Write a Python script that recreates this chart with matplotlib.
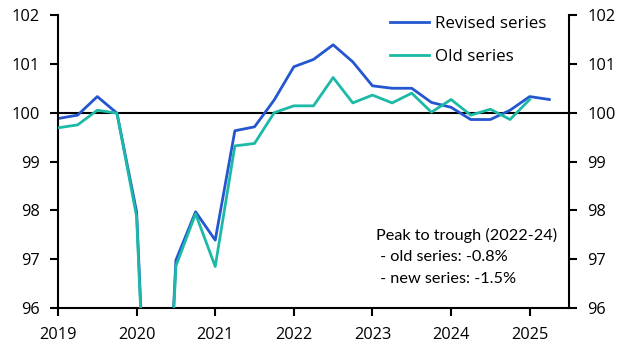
import numpy as np
import matplotlib
matplotlib.use("Agg")
import matplotlib.pyplot as plt

# quarterly index values, 2019Q1 onward
quarters = ["2019Q1", "2019Q2", "2019Q3", "2019Q4",
            "2020Q1", "2020Q2", "2020Q3", "2020Q4",
            "2021Q1", "2021Q2", "2021Q3", "2021Q4",
            "2022Q1", "2022Q2", "2022Q3", "2022Q4",
            "2023Q1", "2023Q2", "2023Q3", "2023Q4",
            "2024Q1", "2024Q2", "2024Q3", "2024Q4",
            "2025Q1", "2025Q2"]

revised = [99.88, 99.95, 100.33, 99.99,
           97.97, 88.8, 96.98, 97.97,
           97.39, 99.63, 99.71, 100.26,
           100.94, 101.09, 101.39, 101.04,
           100.55, 100.50, 100.50, 100.21,
           100.11, 99.86, 99.86, 100.05,
           100.33, 100.27]

old = [99.69, 99.75, 100.05, 99.99,
       97.87, 88.6, 96.86, 97.93,
       96.85, 99.32, 99.37, 100.0,
       100.14, 100.14, 100.72, 100.20,
       100.36, 100.20, 100.40, 100.01,
       100.27, 99.95, 100.07, 99.86,
       100.27]

year_ticks = [2019, 2020, 2021, 2022, 2023, 2024, 2025]
y_ticks = [96, 97, 98, 99, 100, 101, 102]

note = "Peak to trough (2022-24)\n - old series: -0.8%\n - new series: -1.5%"


def to_year(q):
    return int(q[:4]) + (int(q[5]) - 1) / 4.0


x_rev = [to_year(q) for q in quarters[:len(revised)]]
x_old = [to_year(q) for q in quarters[:len(old)]]

plt.rcParams['font.family'] = ['Open Sans', 'DejaVu Sans']

fig = plt.figure(figsize=(6.29, 3.54), dpi=100)
ax = fig.add_axes([0.0922, 0.1299, 0.8124, 0.8277])

blue = "#2456d0"
teal = "#1cb9a6"

ax.axhline(100, color="black", lw=1.5, zorder=1)
ax.plot(x_rev, revised, color=blue, lw=2.0, label="Revised series", zorder=2)
ax.plot(x_old, old, color=teal, lw=2.0, label="Old series", zorder=3)

ax.set_xlim(2019, 2025.5)
ax.set_ylim(96, 102)
ax.set_xticks(year_ticks)
ax.set_yticks(y_ticks)

for side in ["left", "right", "bottom"]:
    ax.spines[side].set_linewidth(1.5)
ax.spines["top"].set_visible(False)

ax.tick_params(axis="both", direction="out", length=6, width=1.5,
               labelsize=11.8, pad=7)
ax.tick_params(axis="x", pad=8)
ax.tick_params(axis="y", left=True, right=True, labelleft=True,
               labelright=True)

leg = ax.legend(loc="upper left", bbox_to_anchor=(0.65, 0.998),
                frameon=False, fontsize=12.2, handlelength=2.3,
                handletextpad=0.35, labelspacing=1.0, borderpad=0,
                borderaxespad=0)

ax.text(0.622, 0.076, note, transform=ax.transAxes, family="Lato",
        fontsize=11.7, linespacing=1.66, va="bottom", ha="left")

fig.savefig("out.png", dpi=100)
